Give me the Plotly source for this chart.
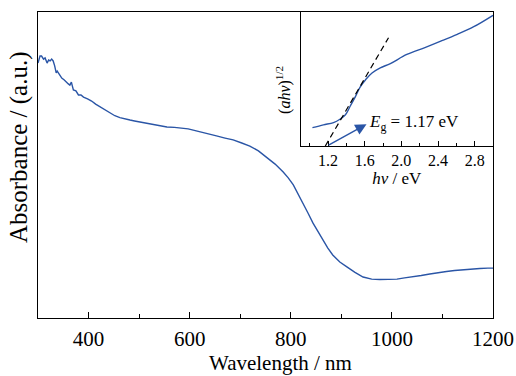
import plotly.graph_objects as go

# UV-Vis-NIR absorbance spectrum (arbitrary units)
wavelength_nm = [300, 304, 307, 311, 314, 318, 321, 324, 327, 330, 333, 336, 338, 340, 344, 347,
                 352, 357, 360, 363, 366, 368, 370, 375, 380, 385, 390, 398, 406, 414, 423, 432,
                 442, 452, 462, 472, 482, 491, 500, 510, 521, 538, 555, 570, 587, 597, 607, 620,
                 636, 653, 670, 686, 703, 719, 736, 752, 769, 785, 795, 805, 815, 824, 834, 844,
                 854, 864, 873, 883, 897, 911, 927, 943, 960, 976, 993, 1010, 1025, 1041, 1058,
                 1075, 1091, 1108, 1124, 1140, 1157, 1174, 1190, 1200]
absorbance = [0.833, 0.856, 0.856, 0.846, 0.850, 0.833, 0.843, 0.840, 0.846, 0.840, 0.824, 0.801,
              0.807, 0.801, 0.791, 0.784, 0.778, 0.768, 0.765, 0.761, 0.771, 0.758, 0.745, 0.742,
              0.729, 0.729, 0.722, 0.716, 0.709, 0.699, 0.690, 0.680, 0.670, 0.661, 0.655, 0.650,
              0.647, 0.644, 0.641, 0.637, 0.634, 0.629, 0.624, 0.623, 0.621, 0.618, 0.614, 0.608,
              0.601, 0.595, 0.588, 0.582, 0.572, 0.562, 0.546, 0.526, 0.503, 0.477, 0.458, 0.435,
              0.405, 0.376, 0.343, 0.310, 0.281, 0.255, 0.229, 0.206, 0.183, 0.167, 0.149, 0.134,
              0.127, 0.126, 0.126, 0.127, 0.131, 0.134, 0.139, 0.144, 0.149, 0.152, 0.155, 0.158,
              0.160, 0.162, 0.163, 0.163]

# Tauc plot (inset)
photon_ev = [1.03, 1.15, 1.26, 1.33, 1.39, 1.44, 1.50, 1.55, 1.61, 1.68, 1.77, 1.88, 2.06, 2.25,
             2.43, 2.61, 2.79, 3.0]
tauc = [0.137, 0.158, 0.175, 0.200, 0.233, 0.295, 0.370, 0.440, 0.495, 0.545, 0.583, 0.615,
        0.683, 0.733, 0.782, 0.833, 0.890, 0.975]

# Linear extrapolation of the absorption edge
fit_ev = [1.17, 1.86]
fit_y = [0.0, 0.808]
band_gap_ev = 1.17

BLUE = "#2a55a6"
FONT = "Liberation Serif, Times New Roman, Times, serif"

fig = go.Figure()
fig.add_trace(go.Scatter(x=wavelength_nm, y=absorbance, mode="lines",
                         line=dict(color=BLUE, width=1.4), xaxis="x", yaxis="y",
                         showlegend=False))
fig.add_trace(go.Scatter(x=photon_ev, y=tauc, mode="lines", line_shape="spline",
                         line=dict(color=BLUE, width=1.4), xaxis="x2", yaxis="y2",
                         showlegend=False))
fig.add_trace(go.Scatter(x=fit_ev, y=fit_y, mode="lines",
                         line=dict(color="black", width=1.2, dash="6px,4px"),
                         xaxis="x2", yaxis="y2", showlegend=False))

fig.update_layout(
    width=516, height=376,
    margin=dict(l=38, r=23, t=12, b=58),
    paper_bgcolor="white", plot_bgcolor="white",
    font=dict(family=FONT, color="black", size=16),
    xaxis=dict(domain=[0, 1], range=[300, 1200], tick0=400, dtick=200,
               ticks="inside", ticklen=6, tickwidth=1, tickcolor="black",
               minor=dict(dtick=100, ticks="inside", ticklen=4, tickcolor="black"),
               showline=True, linecolor="black", linewidth=1, mirror=True,
               showgrid=False, zeroline=False, automargin=False,
               ticklabelstandoff=2,
               tickfont=dict(size=21, family=FONT)),
    yaxis=dict(domain=[0, 1], range=[0, 1], showticklabels=False, ticks="",
               showline=True, linecolor="black", linewidth=1, mirror=True,
               showgrid=False, zeroline=False, automargin=False),
    xaxis2=dict(domain=[0.577, 1], anchor="y2", range=[0.9, 3.0], tick0=1.2, dtick=0.4,
                ticks="inside", ticklen=5, tickcolor="black",
                minor=dict(dtick=0.2, ticks="inside", ticklen=3, tickcolor="black"),
                showline=True, linecolor="black", linewidth=1, mirror=True,
                showgrid=False, zeroline=False, tickformat=".1f", automargin=False,
                tickfont=dict(size=16, family=FONT),
                title=dict(text="<i>hv</i> / eV", font=dict(size=17, family=FONT), standoff=0)),
    yaxis2=dict(domain=[0.562, 1], anchor="x2", range=[0, 1], showticklabels=False, ticks="",
                showline=True, linecolor="black", linewidth=1, mirror=True,
                showgrid=False, zeroline=False, automargin=False),
)

# Main axis titles
fig.add_annotation(xref="paper", yref="paper", x=0.532, y=-0.148,
                   xanchor="center", yanchor="middle", showarrow=False,
                   text="Wavelength / nm", font=dict(size=21, family=FONT))
fig.add_annotation(xref="paper", yref="paper", x=-0.043, y=0.56,
                   xanchor="center", yanchor="middle", showarrow=False, textangle=-90,
                   text="Absorbance / (a.u.)", font=dict(size=25, family=FONT))

# Inset y title
fig.add_annotation(xref="x2 domain", yref="y2 domain", x=-0.085, y=0.42,
                   xanchor="center", yanchor="middle",
                   text="(<i>ahv</i>)<sup>1/2</sup>", textangle=-90, showarrow=False,
                   font=dict(size=16, family=FONT))

# Arrow pointing to the band-gap intercept label
fig.add_annotation(xref="x2", yref="y2", axref="x2", ayref="y2",
                   x=1.62, y=0.163, ax=1.19, ay=0.0, text="",
                   showarrow=True, arrowhead=2, arrowsize=1.6, arrowwidth=1.4,
                   arrowcolor=BLUE)
fig.add_annotation(xref="x2", yref="y2", x=1.63, y=0.17, xanchor="left", yanchor="middle",
                   text=f"<i>E</i><sub>g</sub> = {band_gap_ev:.2f} eV", showarrow=False,
                   font=dict(size=17, family=FONT))

fig.write_html("out.html")
